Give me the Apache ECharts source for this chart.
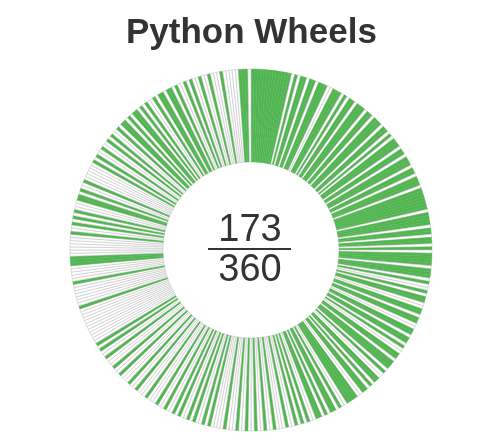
<!DOCTYPE html>
<html>
<head>
<meta charset="utf-8">
<script src="https://cdn.jsdelivr.net/npm/echarts@6/dist/echarts.min.js"></script>
<style>
  html, body { margin: 0; padding: 0; background: #fff; }
  #chart { width: 491px; height: 444px; }
</style>
</head>
<body>
<div id="chart"></div>
<script>
// Title and centre numbers
const chartTitle = 'Python Wheels';
const wheelCount = 173;
const packageTotal = 360;

// One flag per package (1 = has wheel), clockwise from 12 o'clock, 45 per arc
const arc000 = '1111111111111' + '0101101101110' + '0111010110111' + '011011';
const arc045 = '1011010111011' + '0111011011101' + '1111110111101' + '101101';
const arc090 = '0111101110100' + '1011001101100' + '1101101001101' + '110100';
const arc135 = '1101011001111' + '0010110101100' + '1010100100010' + '010010';
const arc180 = '0100100010000' + '1010010100101' + '0010010001000' + '100100';
const arc225 = '0100100010010' + '1000000000000' + '1000000010000' + '011100';
const arc270 = '0000010010101' + '0001101001000' + '0001010010010' + '100101';
const arc315 = '1010110101001' + '0110110100101' + '0010010001000' + '001110';
const arcs = [arc000, arc045, arc090, arc135, arc180, arc225, arc270, arc315];

const GREEN = '#52b552';
const flags = arcs.join('').split('').map(Number);
const pieData = flags.map((f, i) => ({
  name: 'pkg' + i,
  value: 1,
  itemStyle: f
    ? { color: GREEN, borderColor: GREEN, borderWidth: 0.4 }
    : { color: '#ffffff', borderColor: '#c4c4c4', borderWidth: 0.6 }
}));

const chart = echarts.init(document.getElementById('chart'), null, { renderer: 'canvas' });
const cx = 251, cy = 250;
chart.setOption({
  animation: false,
  backgroundColor: '#ffffff',
  title: {
    text: chartTitle,
    left: 121,
    top: 11,
    textStyle: { fontFamily: 'Liberation Sans, Arial, sans-serif', fontSize: 35, fontWeight: 'bold', color: '#333333' }
  },
  series: [{
    type: 'pie',
    center: [cx, cy],
    radius: [88, 181],
    startAngle: 90,
    clockwise: true,
    label: { show: false },
    labelLine: { show: false },
    emphasis: { disabled: true },
    silent: true,
    data: pieData
  }],
  graphic: [
    {
      type: 'text',
      x: cx - 1, y: 231,
      style: {
        text: String(wheelCount),
        fontFamily: 'Liberation Sans, Arial, sans-serif',
        fontSize: 38, fontWeight: 'normal', fill: '#333333',
        align: 'center', verticalAlign: 'middle'
      }
    },
    {
      type: 'line',
      shape: { x1: cx - 43, y1: cy - 1, x2: cx + 40, y2: cy - 1 },
      style: { stroke: '#333333', lineWidth: 2 }
    },
    {
      type: 'text',
      x: cx - 1, y: 271,
      style: {
        text: String(packageTotal),
        fontFamily: 'Liberation Sans, Arial, sans-serif',
        fontSize: 38, fontWeight: 'normal', fill: '#333333',
        align: 'center', verticalAlign: 'middle'
      }
    }
  ]
});
</script>
</body>
</html>
